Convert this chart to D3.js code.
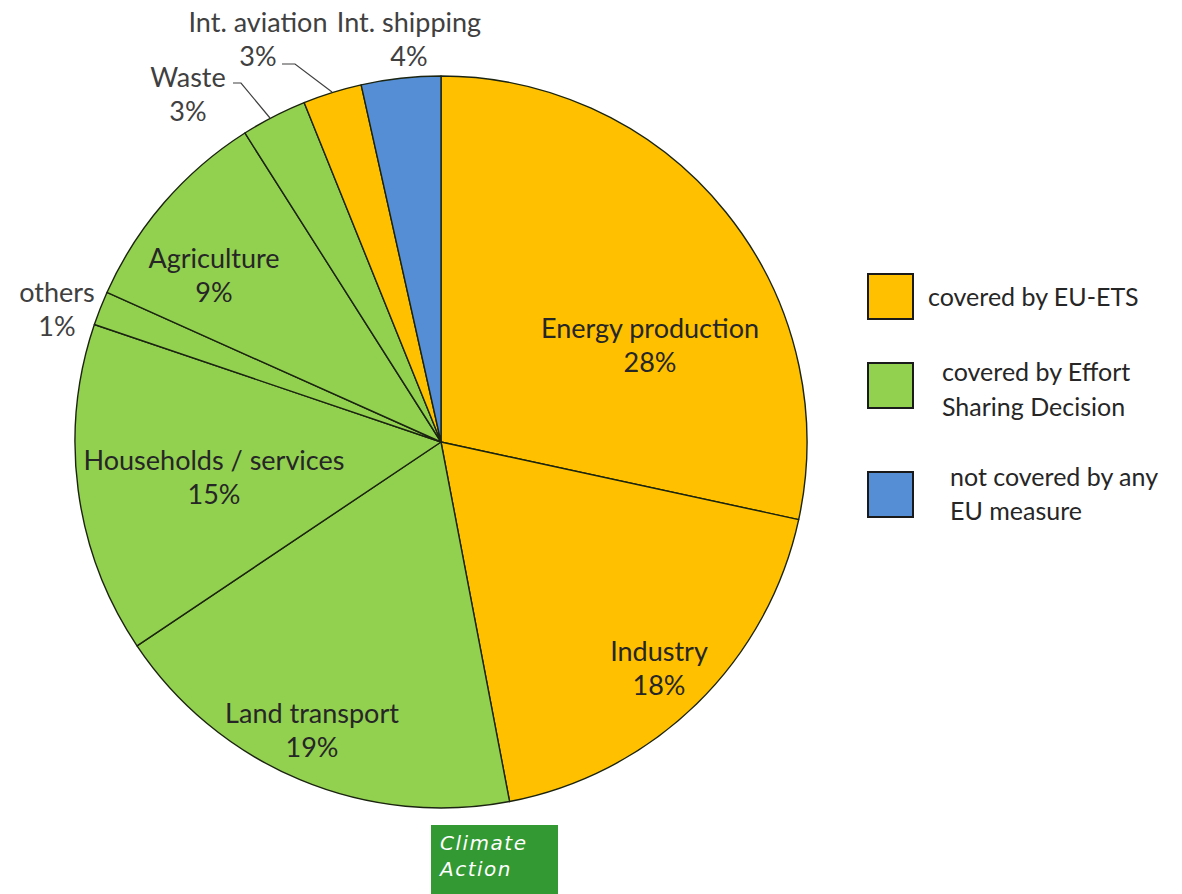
<!DOCTYPE html>
<html>
<head>
<meta charset="utf-8">
<script src="https://cdn.jsdelivr.net/npm/d3@7"></script>
<style>
  body { margin: 0; background: #fff; }
  svg { display: block; }
</style>
</head>
<body>
<svg id="chart" width="1182" height="894"></svg>
<script>
// data, clockwise from 12 o'clock
const sectors = ["Energy production", "Industry", "Land transport", "Households / services", "others", "Agriculture", "Waste", "Int. aviation", "Int. shipping"];
const shares = [28.4, 18.6, 18.6, 14.6, 1.5, 9.3, 2.9, 2.6, 3.5];
const shareLabels = ["28%", "18%", "19%", "15%", "1%", "9%", "3%", "3%", "4%"];
const coverage = ["ets", "ets", "esd", "esd", "esd", "esd", "esd", "ets", "none"];

const legendKeys = ["ets", "esd", "none"];
const legendLines = [["covered by EU-ETS"], ["covered by Effort", "Sharing Decision"], ["not covered by any", "EU measure"]];

const svg = d3.select("#chart");

const cx = 441, cy = 442, radius = 366;
const font = "Lato, 'Open Sans', sans-serif";

const color = d3.scaleOrdinal()
    .domain(legendKeys)
    .range(["#ffc000", "#92d050", "#558ed5"]);

const pie = d3.pie().sort(null).value(d => d.v);
const arc = d3.arc().innerRadius(0).outerRadius(radius);

const rows = sectors.map((s, i) => ({ name: s, v: shares[i], lab: shareLabels[i], key: coverage[i] }));

const g = svg.append("g").attr("transform", `translate(${cx},${cy})`);

g.selectAll("path.slice")
    .data(pie(rows))
    .enter()
    .append("path")
    .attr("class", "slice")
    .attr("d", arc)
    .attr("fill", d => color(d.data.key))
    .attr("stroke", "#1b2410")
    .attr("stroke-width", 1.4)
    .attr("stroke-linejoin", "round");

// label placement (excel-ish "best fit"), centre of first line, relative to pie centre
const labelAt = {
    "Energy production": [209, -114],
    "Industry": [218, 209],
    "Land transport": [-129, 271],
    "Households / services": [-227, 18],
    "others": [-384, -150],
    "Agriculture": [-227, -184],
    "Waste": [-253, -365],
    "Int. aviation": [-183, -420],
    "Int. shipping": [-32, -420]
};
const outside = ["others", "Waste", "Int. aviation", "Int. shipping"];

const labels = g.selectAll("text.lab")
    .data(rows)
    .enter()
    .append("text")
    .attr("class", "lab")
    .attr("text-anchor", "middle")
    .attr("font-family", font)
    .attr("font-size", 27)
    .attr("fill", d => outside.includes(d.name) ? "#404040" : "#262626");

labels.append("tspan")
    .attr("x", d => labelAt[d.name][0])
    .attr("y", d => labelAt[d.name][1] + 9.5)
    .text(d => d.name);
labels.append("tspan")
    .attr("x", d => labelAt[d.name][0])
    .attr("y", d => labelAt[d.name][1] + 44)
    .text(d => d.lab);

// leader lines for the two thin slices near the top
const leaders = {
    "Waste": [[-208, -359], [-200, -359], [-171, -324]],
    "Int. aviation": [[-159, -378], [-146, -378], [-109, -350]]
};
const line = d3.line();
Object.keys(leaders).forEach(k => {
    g.append("path")
        .attr("d", line(leaders[k]))
        .attr("fill", "none")
        .attr("stroke", "#404040")
        .attr("stroke-width", 1.2);
});

// legend
const lg = svg.append("g").attr("transform", "translate(868,274)");
const item = lg.selectAll("g")
    .data(legendKeys)
    .enter()
    .append("g")
    .attr("transform", (d, i) => `translate(0,${[0, 89, 198][i]})`);

item.append("rect")
    .attr("width", 45)
    .attr("height", 45)
    .attr("fill", d => color(d))
    .attr("stroke", "#1a1a1a")
    .attr("stroke-width", 2);

const txtX = [60, 74, 82];
const txtY = [[32], [18, 53], [14, 48]];
item.each(function (d, i) {
    const t = d3.select(this).append("text")
        .attr("font-family", font)
        .attr("font-size", 25)
        .attr("fill", "#262626");
    legendLines[i].forEach((s, j) => {
        t.append("tspan")
            .attr("x", txtX[i])
            .attr("y", txtY[i][j])
            .text(s);
    });
});

// badge
const badge = svg.append("g").attr("transform", "translate(431,825)");
badge.append("rect")
    .attr("width", 127)
    .attr("height", 69)
    .attr("fill", "#339933");
badge.append("text")
    .attr("font-family", "'DejaVu Sans', Verdana, sans-serif")
    .attr("font-style", "italic")
    .attr("font-size", 20)
    .attr("letter-spacing", 1.5)
    .attr("fill", "#fff")
    .selectAll("tspan")
    .data(["Climate", "Action"])
    .enter()
    .append("tspan")
    .attr("x", 9)
    .attr("y", (d, i) => 25 + i * 26)
    .text(d => d);
</script>
</body>
</html>
